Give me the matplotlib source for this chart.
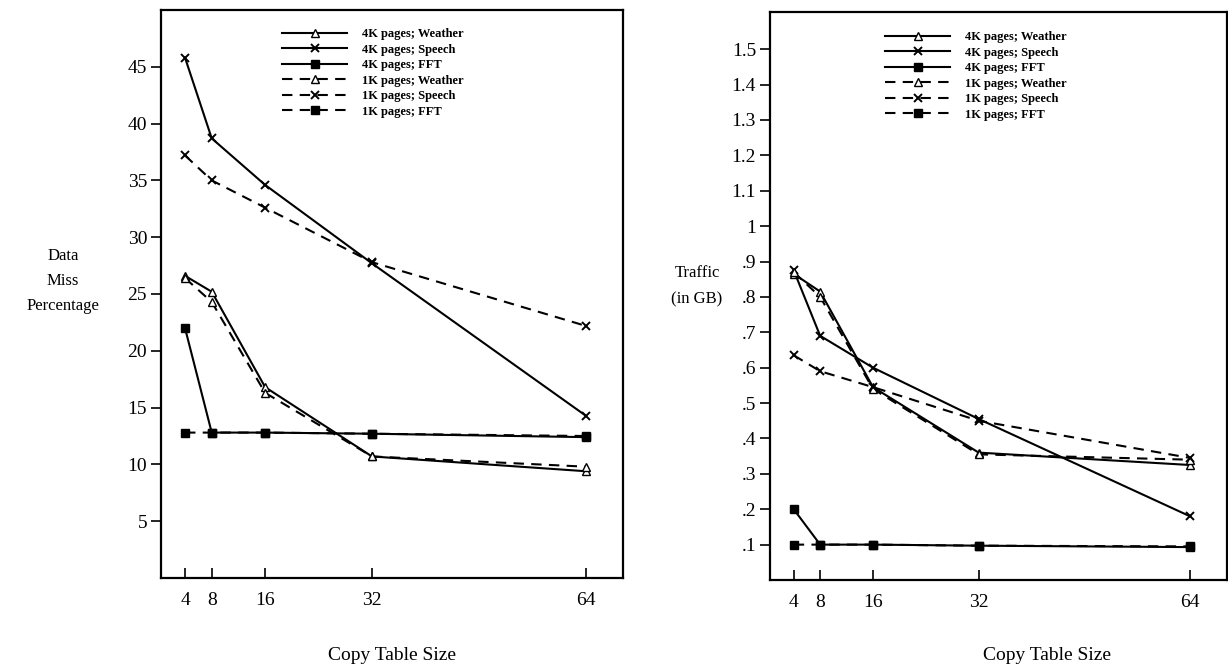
import matplotlib
matplotlib.use("Agg")
import matplotlib.pyplot as plt

plt.rcParams['font.family'] = ['Liberation Serif', 'DejaVu Serif']

# copy table sizes
table_sizes = [4, 8, 16, 32, 64]
x_labels = ["4", "8", "16", "32", "64"]

# left panel: data miss percentage
miss_4k_weather = [26.6, 25.2, 16.8, 10.7, 9.4]
miss_4k_speech = [45.8, 38.7, 34.6, 27.7, 14.3]
miss_4k_fft = [22.0, 12.8, 12.8, 12.7, 12.4]
miss_1k_weather = [26.4, 24.3, 16.3, 10.7, 9.8]
miss_1k_speech = [37.2, 35.0, 32.6, 27.8, 22.2]
miss_1k_fft = [12.8, 12.8, 12.8, 12.7, 12.5]
miss_ticks = [5, 10, 15, 20, 25, 30, 35, 40, 45]
miss_tick_labels = ["5", "10", "15", "20", "25", "30", "35", "40", "45"]

# right panel: traffic in GB
traffic_4k_weather = [0.865, 0.815, 0.545, 0.36, 0.325]
traffic_4k_speech = [0.875, 0.69, 0.60, 0.455, 0.18]
traffic_4k_fft = [0.20, 0.10, 0.10, 0.097, 0.093]
traffic_1k_weather = [0.87, 0.80, 0.54, 0.355, 0.34]
traffic_1k_speech = [0.635, 0.59, 0.545, 0.45, 0.345]
traffic_1k_fft = [0.10, 0.10, 0.10, 0.097, 0.095]
traffic_ticks = [0.1, 0.2, 0.3, 0.4, 0.5, 0.6, 0.7, 0.8, 0.9, 1.0,
                 1.1, 1.2, 1.3, 1.4, 1.5]
traffic_tick_labels = [".1", ".2", ".3", ".4", ".5", ".6", ".7", ".8", ".9",
                       "1", "1.1", "1.2", "1.3", "1.4", "1.5"]

series_names = ["4K pages; Weather", "4K pages; Speech", "4K pages; FFT",
                "1K pages; Weather", "1K pages; Speech", "1K pages; FFT"]

dash = (0, (5, 3.5))
styles = [
    dict(ls='-', marker='^', mfc='white', ms=6),
    dict(ls='-', marker='x', ms=5.5, mew=1.4),
    dict(ls='-', marker='s', mfc='black', ms=5.5),
    dict(ls=dash, marker='^', mfc='white', ms=6),
    dict(ls=dash, marker='x', ms=5.5, mew=1.4),
    dict(ls=dash, marker='s', mfc='black', ms=5.5),
]

fig = plt.figure(figsize=(12.28, 6.71), dpi=100)
ax1 = fig.add_axes([0.1311, 0.1386, 0.3762, 0.8465])
ax2 = fig.add_axes([0.627, 0.1356, 0.3722, 0.8465])


def draw_panel(ax, data, ticks, tick_labels, ymax):
    for vals, name, st in zip(data, series_names, styles):
        ax.plot(table_sizes, vals, color='black', lw=1.5, mec='black',
                label=name, **st)
    ax.set_xlim(0.4, 69.6)
    ax.set_ylim(0, ymax)
    ax.set_xticks(table_sizes)
    ax.set_xticklabels(x_labels)
    ax.set_yticks(ticks)
    ax.set_yticklabels(tick_labels)
    ax.tick_params(axis='x', direction='in', length=7, width=1.2,
                   pad=10, labelsize=14)
    ax.tick_params(axis='y', direction='out', length=7, width=1.2,
                   pad=3, labelsize=14)
    for s in ax.spines.values():
        s.set_linewidth(1.6)
    ax.set_xlabel("Copy Table Size", fontsize=14)
    ax.legend(loc='upper left', frameon=False, numpoints=1,
              prop={'size': 9, 'weight': 'bold'}, handlelength=5.2,
              handletextpad=1.2, labelspacing=0.28, borderpad=0,
              borderaxespad=0)


draw_panel(ax1, [miss_4k_weather, miss_4k_speech, miss_4k_fft,
                 miss_1k_weather, miss_1k_speech, miss_1k_fft],
           miss_ticks, miss_tick_labels, 50)
draw_panel(ax2, [traffic_4k_weather, traffic_4k_speech, traffic_4k_fft,
                 traffic_1k_weather, traffic_1k_speech, traffic_1k_fft],
           traffic_ticks, traffic_tick_labels, 1.605)

ax1.get_legend().set_bbox_to_anchor((0.262, 0.968), transform=ax1.transAxes)
ax2.get_legend().set_bbox_to_anchor((0.252, 0.966), transform=ax2.transAxes)

ax1.xaxis.set_label_coords(0.5, -0.121)
ax2.xaxis.set_label_coords(0.606, -0.118)

fig.text(63 / 1228, 1 - 281 / 671, "Data\nMiss\nPercentage", ha='center',
         va='center', multialignment='center', fontsize=12, linespacing=1.75)
fig.text(697 / 1228, 1 - 286 / 671, "Traffic\n(in GB)", ha='center',
         va='center', multialignment='center', fontsize=12, linespacing=1.9)

fig.savefig("out.png", dpi=100)
